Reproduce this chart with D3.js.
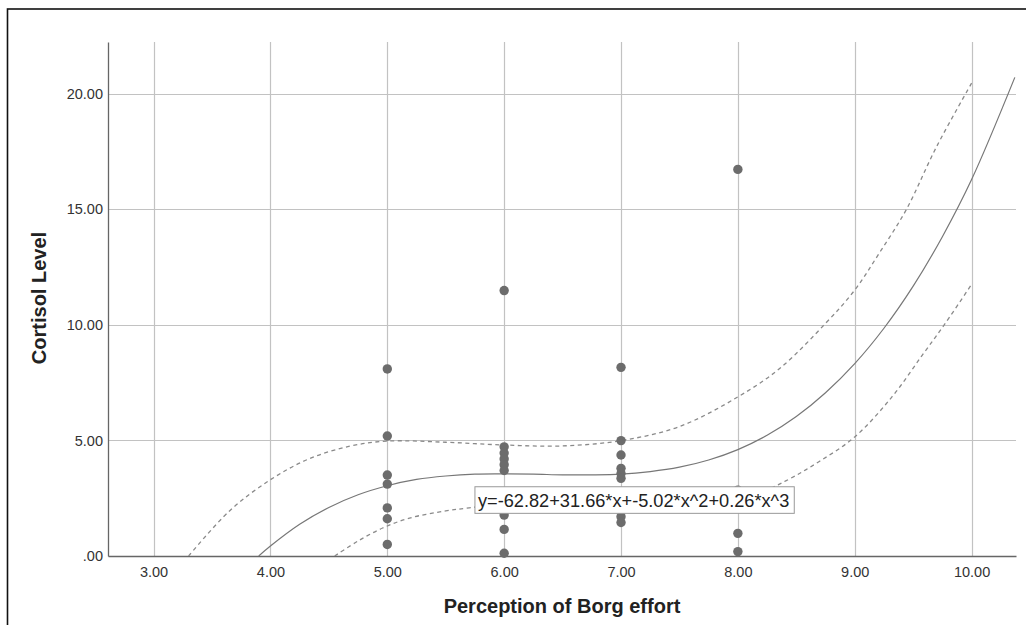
<!DOCTYPE html>
<html>
<head>
<meta charset="utf-8">
<script src="https://cdn.jsdelivr.net/npm/d3@7"></script>
<style>
  html, body { margin: 0; padding: 0; background: #fff; }
  svg { display: block; }
</style>
</head>
<body>
<svg id="chart" width="1026" height="625"></svg>
<script>
// ---------- data ----------
const borgEffort = [5,5,5,5,5,5,5, 6,6,6,6,6,6,6,6,6, 7,7,7,7,7,7,7,7, 8,8,8,8];
const cortisolLevel = [8.09,5.19,3.50,3.11,2.08,1.61,0.50,
                       11.48,4.72,4.45,4.20,3.95,3.70,1.77,1.15,0.12,
                       8.16,4.99,4.37,3.79,3.57,3.36,1.70,1.45,
                       16.72,2.85,0.98,0.19];

// cubic fit line, sampled from the plotted curve
const fitCurve = [[3.90,0.00],[4.00,0.43],[4.25,1.37],[4.50,2.10],[4.75,2.65],[5.00,3.04],[5.25,3.31],
                  [5.50,3.46],[5.75,3.54],[6.00,3.55],[6.25,3.54],[6.50,3.51],[6.75,3.51],[7.00,3.54],
                  [7.25,3.65],[7.50,3.84],[7.75,4.15],[8.00,4.60],[8.25,5.22],[8.50,6.03],[8.75,7.06],
                  [9.00,8.32],[9.25,9.85],[9.50,11.67],[9.75,13.81],[10.00,16.28],[10.37,20.70]];
// confidence band (dashed)
const upperBand = [[3.30,0.00],[3.65,1.95],[4.00,3.30],[4.33,4.20],[4.68,4.75],[5.00,4.97],[5.50,4.92],
                   [6.00,4.80],[6.50,4.76],[7.00,4.99],[7.50,5.60],[8.00,6.88],[8.36,8.12],[8.75,10.06],
                   [9.00,11.50],[9.21,13.10],[9.44,14.97],[9.70,17.70],[10.00,20.45]];
const lowerBand = [[4.55,0.00],[4.75,0.65],[4.96,1.21],[5.19,1.64],[5.50,1.95],[5.70,2.08],[6.00,2.25],
                   [6.50,2.26],[7.00,2.10],[7.50,2.10],[8.00,2.35],[8.41,3.25],[8.70,4.10],[9.00,5.15],
                   [9.32,6.89],[9.58,8.70],[9.78,10.10],[10.00,11.75]];

const xTicks = [3,4,5,6,7,8,9,10];
const xTickLabels = ["3.00","4.00","5.00","6.00","7.00","8.00","9.00","10.00"];
const yTicks = [0,5,10,15,20];
const yTickLabels = [".00","5.00","10.00","15.00","20.00"];
const xTitle = "Perception of Borg effort";
const yTitle = "Cortisol Level";
const equationText = "y=-62.82+31.66*x+-5.02*x^2+0.26*x^3";

// ---------- layout ----------
(function () {
const svg = d3.select("#chart");
const pLeft = 108, pRight = 1016, pTop = 42, pBottom = 556;
const x = d3.scaleLinear().domain([2.61, 10.38]).range([pLeft, pRight]);
const y = d3.scaleLinear().domain([0, 22.23]).range([pBottom, pTop]);
const font = "'Liberation Sans', Arial, sans-serif";

// outer frame (extends beyond right/bottom of the view)
svg.append("rect").attr("x", 7.5).attr("y", 9).attr("width", 1040).attr("height", 640)
  .attr("fill", "none").attr("stroke", "#111").attr("stroke-width", 1.6);

// gridlines
const grid = svg.append("g");
grid.selectAll("line.v").data(xTicks).join("line")
  .attr("x1", d => Math.round(x(d)) + 0.5).attr("x2", d => Math.round(x(d)) + 0.5)
  .attr("y1", pTop).attr("y2", pBottom)
  .attr("stroke", "#c2c2c2").attr("stroke-width", 1.2);
grid.selectAll("line.h").data(yTicks.filter(d => d > 0)).join("line")
  .attr("x1", pLeft).attr("x2", pRight)
  .attr("y1", d => Math.round(y(d)) + 0.5).attr("y2", d => Math.round(y(d)) + 0.5)
  .attr("stroke", "#c2c2c2").attr("stroke-width", 1.2);

// axes
const xAxis = d3.axisBottom(x).tickValues(xTicks).tickFormat((d, i) => xTickLabels[i])
  .tickSize(0).tickPadding(10.5);
const gx = svg.append("g").attr("transform", `translate(0,${pBottom})`).call(xAxis);
const yAxis = d3.axisLeft(y).tickValues(yTicks).tickFormat((d, i) => yTickLabels[i])
  .tickSize(0).tickPadding(5);
const gy = svg.append("g").attr("transform", `translate(${pLeft},0)`).call(yAxis);
[gx, gy].forEach(g => {
  g.select(".domain").attr("stroke", "#666").attr("stroke-width", 1.3);
  g.selectAll("text").attr("font-family", font).attr("font-size", 14.5).attr("fill", "#333");
});

// clip to plot area
svg.append("clipPath").attr("id", "plotclip").append("rect")
  .attr("x", pLeft).attr("y", pTop - 40).attr("width", pRight - pLeft + 2).attr("height", pBottom - pTop + 40);
const plot = svg.append("g").attr("clip-path", "url(#plotclip)");

const line = d3.line().x(d => x(d[0])).y(d => y(d[1])).curve(d3.curveCatmullRom);
plot.append("path").datum(upperBand).attr("d", line)
  .attr("fill", "none").attr("stroke", "#8a8a8a").attr("stroke-width", 1.3).attr("stroke-dasharray", "4,3.5");
plot.append("path").datum(lowerBand).attr("d", line)
  .attr("fill", "none").attr("stroke", "#8a8a8a").attr("stroke-width", 1.3).attr("stroke-dasharray", "4,3.5");
plot.append("path").datum(fitCurve).attr("d", line)
  .attr("fill", "none").attr("stroke", "#777").attr("stroke-width", 1.2);

// points
svg.append("g").selectAll("circle").data(borgEffort.map((b, i) => [b, cortisolLevel[i]])).join("circle")
  .attr("cx", d => x(d[0])).attr("cy", d => y(d[1])).attr("r", 4.7)
  .attr("fill", "#6c6c6c");

// equation label
const eqX = x(5.75), eqY = y(2.42);
const eq = svg.append("g");
const eqText = eq.append("text").attr("x", eqX + 3).attr("y", eqY + 6.5)
  .attr("font-family", font).attr("font-size", 18.2).attr("fill", "#222").text(equationText);
const bb = eqText.node().getBBox();
eq.insert("rect", "text").attr("x", eqX).attr("y", eqY - 13.3)
  .attr("width", bb.width + 8).attr("height", 26.6)
  .attr("fill", "#fff").attr("stroke", "#999").attr("stroke-width", 1);

// axis titles
svg.append("text").attr("x", (pLeft + pRight) / 2).attr("y", 613)
  .attr("text-anchor", "middle").attr("font-family", font).attr("font-size", 20)
  .attr("font-weight", "bold").attr("fill", "#222").text(xTitle);
svg.append("text").attr("transform", `translate(46,298) rotate(-90)`)
  .attr("text-anchor", "middle").attr("font-family", font).attr("font-size", 20)
  .attr("font-weight", "bold").attr("fill", "#222").text(yTitle);
})();
</script>
</body>
</html>
